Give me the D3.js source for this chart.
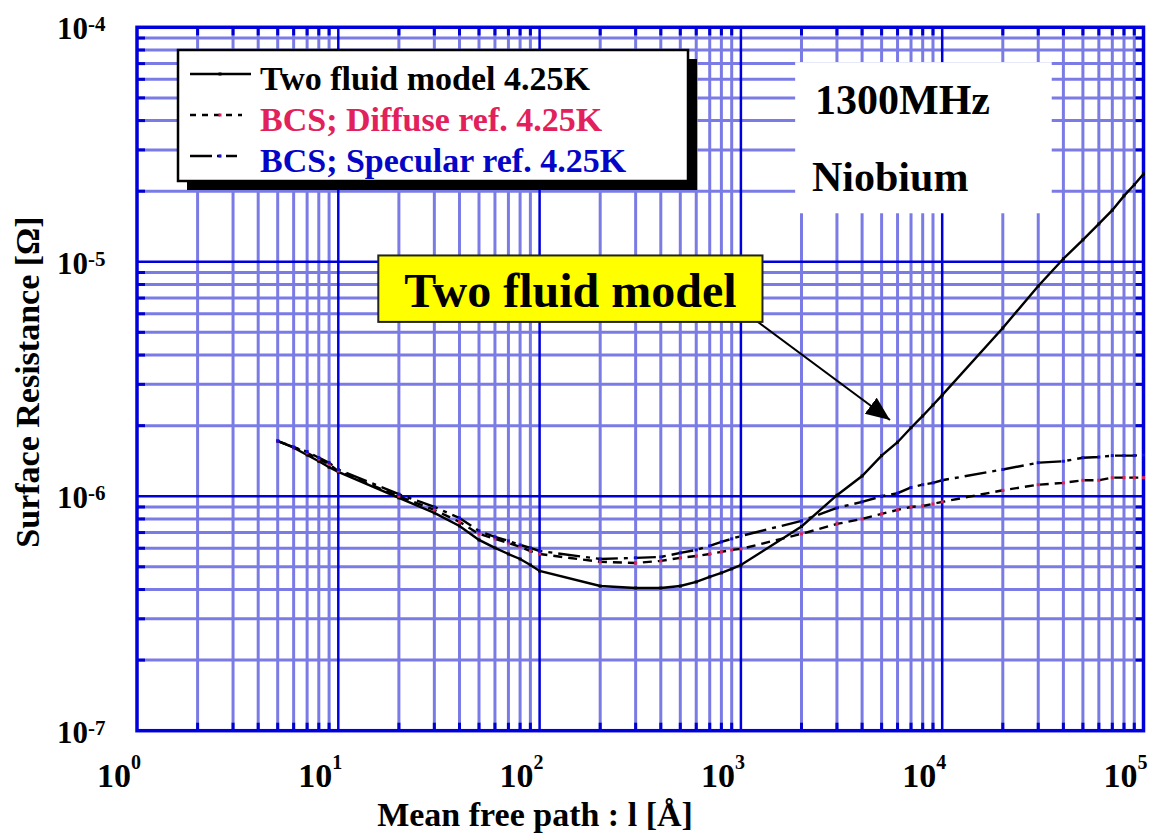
<!DOCTYPE html>
<html>
<head>
<meta charset="utf-8">
<script src="https://cdn.jsdelivr.net/npm/d3@7"></script>
<style>
  body { margin: 0; background: #fff; }
  svg { display: block; font-family: "Liberation Serif", "Times New Roman", serif; font-weight: bold; }
</style>
</head>
<body>
<div id="chart"></div>
<script>
// mean free path l [Angstrom]
var meanFreePath = [5, 6, 7, 8, 9,
  10, 20, 30, 40, 50, 60, 70, 80, 90,
  100, 200, 300, 400, 500, 600, 700, 800, 900,
  1000, 2000, 3000, 4000, 5000, 6000, 7000, 8000, 9000,
  10000, 20000, 30000, 40000, 50000, 60000, 70000, 80000, 90000,
  100000];

// surface resistance [Ohm]
var twoFluid = [1.72e-6, 1.61e-6, 1.50e-6, 1.41e-6, 1.33e-6,
  1.27e-6, 9.84e-7, 8.49e-7, 7.47e-7, 6.51e-7, 6.02e-7, 5.67e-7, 5.40e-7, 5.09e-7,
  4.80e-7, 4.14e-7, 4.06e-7, 4.06e-7, 4.14e-7, 4.31e-7, 4.53e-7, 4.71e-7, 4.90e-7,
  5.09e-7, 7.43e-7, 1.01e-6, 1.22e-6, 1.49e-6, 1.70e-6, 1.96e-6, 2.20e-6, 2.45e-6,
  2.70e-6, 5.22e-6, 7.88e-6, 1.03e-5, 1.24e-5, 1.45e-5, 1.66e-5, 1.91e-5, 2.13e-5,
  2.37e-5];

var bcsDiffuse = [1.72e-6, 1.62e-6, 1.53e-6, 1.44e-6, 1.37e-6,
  1.28e-6, 1.00e-6, 8.74e-7, 7.77e-7, 6.91e-7, 6.58e-7, 6.32e-7, 6.08e-7, 5.84e-7,
  5.67e-7, 5.25e-7, 5.19e-7, 5.30e-7, 5.46e-7, 5.56e-7, 5.67e-7, 5.79e-7, 5.90e-7,
  5.96e-7, 6.91e-7, 7.62e-7, 8.00e-7, 8.41e-7, 8.74e-7, 9.00e-7, 9.09e-7, 9.27e-7,
  9.46e-7, 1.06e-6, 1.12e-6, 1.14e-6, 1.17e-6, 1.17e-6, 1.20e-6, 1.20e-6, 1.20e-6,
  1.20e-6];

var bcsSpecular = [1.72e-6, 1.62e-6, 1.55e-6, 1.46e-6, 1.39e-6,
  1.30e-6, 1.02e-6, 9.00e-7, 8.08e-7, 7.11e-7, 6.71e-7, 6.45e-7, 6.20e-7, 6.02e-7,
  5.84e-7, 5.40e-7, 5.46e-7, 5.51e-7, 5.73e-7, 5.90e-7, 6.14e-7, 6.39e-7, 6.58e-7,
  6.77e-7, 7.85e-7, 8.92e-7, 9.46e-7, 1.00e-6, 1.03e-6, 1.09e-6, 1.12e-6, 1.14e-6,
  1.17e-6, 1.30e-6, 1.39e-6, 1.41e-6, 1.46e-6, 1.47e-6, 1.49e-6, 1.49e-6, 1.49e-6,
  1.50e-6];

var xTickExps = [0, 1, 2, 3, 4, 5];
var yTickExps = [-7, -6, -5, -4];

var seriesNames = ["Two fluid model 4.25K", "BCS; Diffuse ref. 4.25K", "BCS; Specular ref. 4.25K"];
var seriesText = ["#000000", "#e2215c", "#0505c8"];
var seriesMarker = ["#000000", "#e2215c", "#1010e0"];
var seriesDash = [null, "9,6", "22,6,4,6"];

var width = 1150;
var height = 838;

var minorColor = "#7b7be6";
var majorColor = "#0000dd";

var xScale = d3.scaleLog().domain([1, 1e5]).range([137, 1143.5]);
var yScale = d3.scaleLog().domain([1e-7, 1e-4]).range([730.7, 27.3]);

var svg = d3.select("#chart").append("svg")
  .attr("width", width)
  .attr("height", height);

svg.append("rect").attr("width", width).attr("height", height).attr("fill", "#fff");

var x0 = xScale.range()[0], x1 = xScale.range()[1];
var y0 = yScale.range()[1], y1 = yScale.range()[0];

/* grid */
var minorX = [], majorX = [], minorY = [], majorY = [];
for (var d = 0; d < 5; d++) {
  for (var m = 2; m <= 9; m++) minorX.push(m * Math.pow(10, d));
  if (d > 0) majorX.push(Math.pow(10, d));
}
for (var e = -7; e < -4; e++) {
  for (var m2 = 2; m2 <= 9; m2++) minorY.push(m2 * Math.pow(10, e));
  if (e > -7) majorY.push(Math.pow(10, e));
}

var grid = svg.append("g").attr("class", "grid");
grid.selectAll(".mx").data(minorX).enter().append("line")
  .attr("x1", d => xScale(d)).attr("x2", d => xScale(d))
  .attr("y1", y0).attr("y2", y1)
  .attr("stroke", minorColor).attr("stroke-width", 3);
grid.selectAll(".my").data(minorY).enter().append("line")
  .attr("y1", d => yScale(d)).attr("y2", d => yScale(d))
  .attr("x1", x0).attr("x2", x1)
  .attr("stroke", minorColor).attr("stroke-width", 3);
grid.selectAll(".Mx").data(majorX).enter().append("line")
  .attr("x1", d => xScale(d)).attr("x2", d => xScale(d))
  .attr("y1", y0).attr("y2", y1)
  .attr("stroke", majorColor).attr("stroke-width", 2.5);
grid.selectAll(".My").data(majorY).enter().append("line")
  .attr("y1", d => yScale(d)).attr("y2", d => yScale(d))
  .attr("x1", x0).attr("x2", x1)
  .attr("stroke", majorColor).attr("stroke-width", 2.5);

/* inner ticks on all four sides */
var tickLen = 8;
var ticks = svg.append("g").attr("stroke", "#0000cc").attr("stroke-width", 3);
minorX.forEach(function(v) {
  ticks.append("line").attr("x1", xScale(v)).attr("x2", xScale(v)).attr("y1", y0).attr("y2", y0 + tickLen);
  ticks.append("line").attr("x1", xScale(v)).attr("x2", xScale(v)).attr("y1", y1).attr("y2", y1 - tickLen);
});
minorY.forEach(function(v) {
  ticks.append("line").attr("y1", yScale(v)).attr("y2", yScale(v)).attr("x1", x0).attr("x2", x0 + tickLen);
  ticks.append("line").attr("y1", yScale(v)).attr("y2", yScale(v)).attr("x1", x1).attr("x2", x1 - tickLen);
});

svg.append("rect")
  .attr("x", x0).attr("y", y0)
  .attr("width", x1 - x0).attr("height", y1 - y0)
  .attr("fill", "none").attr("stroke", majorColor).attr("stroke-width", 3.5);

/* tick labels */
var xLab = svg.append("g").attr("fill", "#000");
xTickExps.forEach(function(p) {
  var tx = xScale(Math.pow(10, p)) - 6;
  xLab.append("text").attr("x", tx).attr("y", 787).attr("text-anchor", "end")
    .attr("font-size", 34).text("10");
  xLab.append("text").attr("x", tx).attr("y", 769)
    .attr("font-size", 20).text(p);
});
var yLab = svg.append("g").attr("fill", "#000");
yTickExps.forEach(function(p) {
  var ty = yScale(Math.pow(10, p));
  yLab.append("text").attr("x", 88).attr("y", ty + 12).attr("text-anchor", "end")
    .attr("font-size", 31).text("10");
  yLab.append("text").attr("x", 88).attr("y", ty + 4)
    .attr("font-size", 21).text(p);
});

/* axis titles */
svg.append("text").attr("x", 535).attr("y", 826).attr("text-anchor", "middle")
  .attr("font-size", 34).text("Mean free path : l [\u00C5]");
svg.append("text").attr("transform", "translate(39, 382) rotate(-90)")
  .attr("text-anchor", "middle").attr("font-size", 34)
  .text("Surface Resistance [\u03A9]");

/* curves */
var series = [twoFluid, bcsDiffuse, bcsSpecular].map(function(vals, i) {
  return { name: seriesNames[i], values: meanFreePath.map((l, k) => ({ l: l, r: vals[k] })) };
});

var line = d3.line().x(d => xScale(d.l)).y(d => yScale(d.r));

var lines = svg.append("g").attr("class", "lines");
lines.selectAll("path").data(series).enter().append("path")
  .attr("d", d => line(d.values))
  .attr("fill", "none")
  .attr("stroke", "#000")
  .attr("stroke-width", 2.4)
  .attr("stroke-dasharray", (d, i) => seriesDash[i]);

lines.selectAll(".pts").data(series).enter().append("g")
  .attr("fill", (d, i) => seriesMarker[i])
  .selectAll("rect").data(d => d.values).enter().append("rect")
  .attr("x", d => xScale(d.l) - 1.5)
  .attr("y", d => yScale(d.r) - 1.5)
  .attr("width", 3).attr("height", 3);

/* 1300MHz / Niobium box */
var infoL = [1860, 35000], infoR = [7.1e-5, 1.61e-5];
svg.append("rect")
  .attr("x", xScale(infoL[0])).attr("y", yScale(infoR[0]))
  .attr("width", xScale(infoL[1]) - xScale(infoL[0]))
  .attr("height", yScale(infoR[1]) - yScale(infoR[0]))
  .attr("fill", "#fff");
svg.append("text").attr("x", 815).attr("y", 114).attr("font-size", 42).text("1300MHz");
svg.append("text").attr("x", 812).attr("y", 191).attr("font-size", 42).text("Niobium");

/* legend */
var legend = svg.append("g").attr("class", "legend");
legend.append("rect").attr("x", 187).attr("y", 59).attr("width", 510).attr("height", 131).attr("fill", "#000");
legend.append("rect").attr("x", 178).attr("y", 50).attr("width", 510).attr("height", 131)
  .attr("fill", "#fff").attr("stroke", "#000").attr("stroke-width", 2.5);
var sampleEnd = [251, 242, 237];
seriesNames.forEach(function(name, i) {
  var base = 90 + i * 41;
  legend.append("line").attr("x1", 190).attr("x2", sampleEnd[i])
    .attr("y1", base - 16).attr("y2", base - 16)
    .attr("stroke", "#000").attr("stroke-width", 2.4)
    .attr("stroke-dasharray", i === 1 ? "6,6" : (i === 2 ? "22,5,4,5" : null));
  legend.append("rect").attr("x", 220 - 1.5).attr("y", base - 17.5).attr("width", 3).attr("height", 3)
    .attr("fill", seriesMarker[i]);
  legend.append("text").attr("x", 260).attr("y", base)
    .attr("font-size", 34).attr("fill", seriesText[i]).text(name);
});

/* callout */
var calloutL = [15.8, 1280], calloutR = [1.064e-5, 5.54e-6];
var arrowFrom = { l: 1100, r: 5.9e-6 }, arrowTo = { l: 5505, r: 2.115e-6 };

svg.append("defs").append("marker")
  .attr("id", "head").attr("markerUnits", "userSpaceOnUse")
  .attr("markerWidth", 26).attr("markerHeight", 22)
  .attr("refX", 24).attr("refY", 10).attr("orient", "auto")
  .append("path").attr("d", "M0,0 L24,10 L0,20 Z").attr("fill", "#000");

svg.append("line")
  .attr("x1", xScale(arrowFrom.l)).attr("y1", yScale(arrowFrom.r))
  .attr("x2", xScale(arrowTo.l)).attr("y2", yScale(arrowTo.r))
  .attr("stroke", "#000").attr("stroke-width", 2)
  .attr("marker-end", "url(#head)");

var cx0 = xScale(calloutL[0]), cx1 = xScale(calloutL[1]);
var cy0 = yScale(calloutR[0]), cy1 = yScale(calloutR[1]);
svg.append("rect").attr("x", cx0).attr("y", cy0)
  .attr("width", cx1 - cx0).attr("height", cy1 - cy0)
  .attr("fill", "#ffff00").attr("stroke", "#222").attr("stroke-width", 2);
svg.append("text").attr("x", (cx0 + cx1) / 2).attr("y", cy1 - 15)
  .attr("text-anchor", "middle").attr("font-size", 48).text("Two fluid model");
</script>
</body>
</html>
